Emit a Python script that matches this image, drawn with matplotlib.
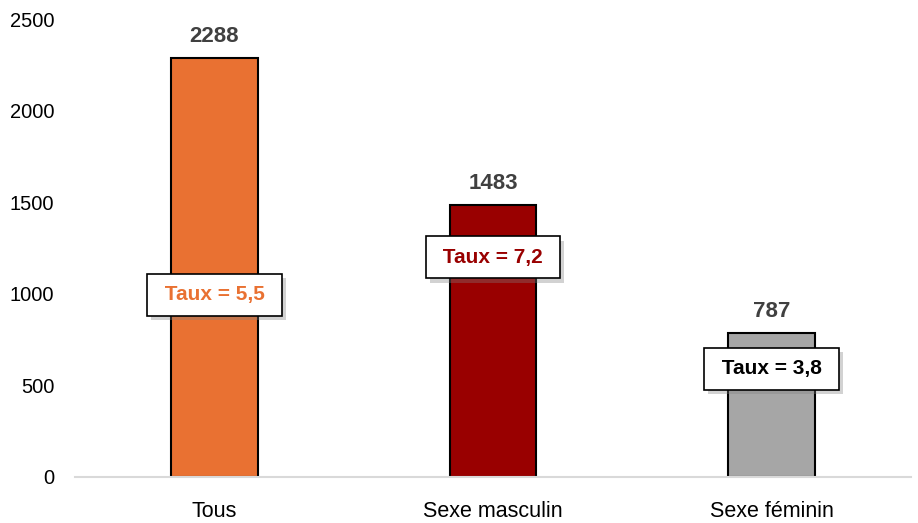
import matplotlib
matplotlib.use("Agg")
from matplotlib import pyplot as plt
from matplotlib import patheffects as pe
import numpy as np

categories = ["Tous", "Sexe masculin", "Sexe féminin"]
values = [2288, 1483, 787]
taux_labels = ["Taux = 5,5", "Taux = 7,2", "Taux = 3,8"]
taux_y = [994, 1199, 590]
bar_colors = ["#E97132", "#990000", "#A6A6A6"]
taux_colors = ["#E97132", "#990000", "#000000"]

plt.rcParams['font.family'] = ['Liberation Sans', 'DejaVu Sans']

fig = plt.figure(figsize=(9.18, 5.23), dpi=100)
ax = fig.add_axes([75.25/918, 1-477/523, (910.75-75.25)/918, (477-19.2)/523])

x = np.arange(len(categories))
ax.bar(x, values, width=0.31, color=bar_colors, edgecolor="black", linewidth=1.5, zorder=2)

for xi, v in zip(x, values):
    ax.annotate(str(v), (xi, v), xytext=(0, 11.5), textcoords="offset points",
                ha="center", va="baseline", fontsize=16, fontweight="bold", color="#404040")

for xi, lab, ty, c in zip(x, taux_labels, taux_y, taux_colors):
    t = ax.text(xi, ty, " " + lab + " ", ha="center", va="center", fontsize=15,
                fontweight="bold", color=c, zorder=5,
                bbox=dict(boxstyle="square,pad=0.55", facecolor="white", edgecolor="black", linewidth=1.2))
    t.get_bbox_patch().set_path_effects([
        pe.SimplePatchShadow(offset=(3, -3), shadow_rgbFace="#808080", alpha=0.35),
        pe.Normal()])

ax.set_xlim(-0.5, 2.5)
ax.set_ylim(0, 2500)
ax.set_yticks([0, 500, 1000, 1500, 2000, 2500])
ax.set_xticks(x)
ax.set_xticklabels(categories, fontsize=15.5)
ax.tick_params(axis="y", labelsize=14.5, length=0, pad=15)
ax.tick_params(axis="x", length=0, pad=17)
for s in ["top", "right", "left"]:
    ax.spines[s].set_visible(False)
ax.spines["bottom"].set_color("#D9D9D9")
ax.spines["bottom"].set_linewidth(1.5)

fig.savefig("out.png", dpi=100)
